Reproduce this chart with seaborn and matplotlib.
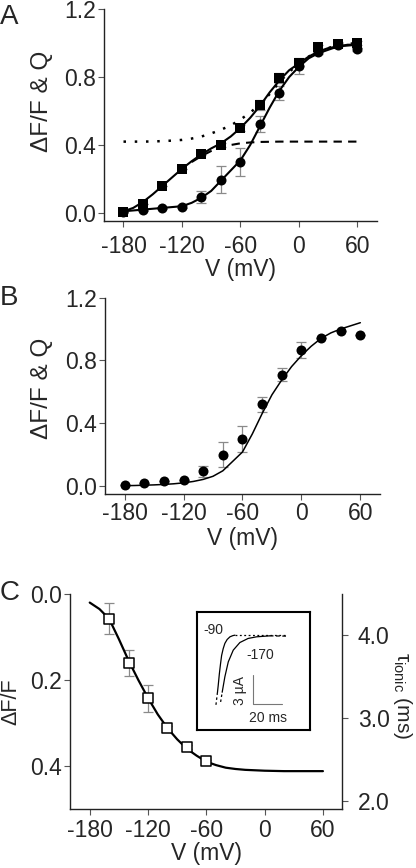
import matplotlib
matplotlib.use("Agg")
import matplotlib.pyplot as plt
import seaborn as sns

# ---- data ----
volts = [-180, -160, -140, -120, -100, -80, -60, -40, -20, 0, 20, 40, 60]

# panel A: charge (squares) and fluorescence (circles)
q_vals = [0.005, 0.055, 0.16, 0.26, 0.35, 0.40, 0.50, 0.635, 0.795, 0.885, 0.975, 0.995, 1.0]
q_err = [0, 0, 0, 0, 0.01, 0.01, 0.015, 0.03, 0.028, 0.02, 0.015, 0.01, 0.01]
f_vals = [0.005, 0.018, 0.03, 0.038, 0.093, 0.197, 0.30, 0.521, 0.708, 0.865, 0.945, 0.99, 0.962]
f_err = [0, 0.005, 0.005, 0.008, 0.035, 0.08, 0.082, 0.047, 0.042, 0.045, 0.01, 0.01, 0.01]

fit_v = [-180, -170, -160, -150, -140, -130, -120, -110, -100, -90, -80, -70, -60,
         -50, -40, -30, -20, -10, 0, 10, 20, 30, 40, 50, 60]
q_fit = [0.01, 0.03, 0.065, 0.11, 0.16, 0.21, 0.26, 0.305, 0.345, 0.38, 0.41, 0.45, 0.50,
         0.56, 0.63, 0.71, 0.78, 0.84, 0.88, 0.92, 0.95, 0.97, 0.98, 0.99, 0.99]
f_fit = [0.01, 0.015, 0.02, 0.025, 0.03, 0.035, 0.04, 0.06, 0.09, 0.13, 0.19, 0.25, 0.31,
         0.40, 0.51, 0.62, 0.72, 0.80, 0.86, 0.91, 0.94, 0.96, 0.98, 0.985, 0.99]
q2_fit = [0.42, 0.42, 0.42, 0.421, 0.423, 0.426, 0.43, 0.438, 0.45, 0.468, 0.49, 0.515, 0.55,
          0.59, 0.64, 0.70, 0.77, 0.83, 0.88, 0.92, 0.95, 0.97, 0.99, 0.995, 1.0]
q1_v = [-110, -100, -90, -80, -70, -60, -50, -40, -20, 0, 20, 40, 60]
q1_fit = [0.30, 0.335, 0.365, 0.385, 0.40, 0.41, 0.415, 0.418, 0.42, 0.42, 0.42, 0.42, 0.42]

# panel B: fluorescence with predicted curve
b_err = [0, 0, 0, 0, 0.035, 0.08, 0.083, 0.048, 0.042, 0.05, 0, 0, 0]
b_fit = [0.0, 0.001, 0.003, 0.005, 0.008, 0.012, 0.018, 0.027, 0.04, 0.06, 0.095, 0.155, 0.215,
         0.33, 0.46, 0.58, 0.675, 0.76, 0.83, 0.89, 0.94, 0.975, 1.0, 1.02, 1.04]

# panel C: dF/F at hyperpolarized potentials
c_v = [-160, -140, -120, -100, -80, -60]
c_vals = [0.058, 0.16, 0.243, 0.312, 0.356, 0.389]
c_err = [0.036, 0.03, 0.032, 0.006, 0.004, 0.003]
c_fit_v = [-180, -170, -160, -150, -140, -130, -120, -110, -100, -90, -80, -70, -60,
           -50, -40, -30, -20, -10, 0, 20, 40, 60]
c_fit = [0.02, 0.035, 0.058, 0.105, 0.155, 0.20, 0.242, 0.28, 0.312, 0.338, 0.36, 0.376, 0.39,
         0.398, 0.404, 0.407, 0.409, 0.41, 0.411, 0.412, 0.412, 0.412]

# inset: ionic current traces (ms, uA)
t90 = [14.6, 15.2, 16.0, 16.8, 17.6, 18.7, 19.9, 21.5, 23.5, 25.5, 27.0]
i90 = [-6.0, -5.2, -4.0, -3.0, -2.1, -1.4, -0.85, -0.45, -0.17, -0.05, 0.0]
t170 = [18.0, 19.9, 22.3, 25.8, 30.5, 36.3, 42.3, 51.6]
i170 = [-5.9, -4.3, -2.76, -1.55, -0.76, -0.34, -0.17, -0.07]

sns.set_style("ticks")
plt.rcParams['font.family'] = ['Liberation Sans', 'DejaVu Sans']
plt.rcParams['mathtext.fontset'] = 'custom'
plt.rcParams['mathtext.rm'] = 'Liberation Sans'
plt.rcParams['mathtext.it'] = 'Liberation Sans:italic'
plt.rcParams['axes.unicode_minus'] = False

fs = 16.5
err_kw = dict(fmt='none', ecolor='#8a8a8a', elinewidth=0.9, capsize=3.5, capthick=0.9, zorder=2)


def style_axes(ax, xpad):
    sns.despine(ax=ax)
    for s in ['left', 'bottom']:
        ax.spines[s].set_linewidth(1.0)
        ax.spines[s].set_color('#222222')
    ax.tick_params(axis='both', direction='out', length=4, width=0.8, color='#555555', labelsize=fs)
    ax.tick_params(axis='y', pad=2)
    ax.tick_params(axis='x', pad=xpad)
    ax.set_xlim(-200, 80)
    ax.set_xticks([-180, -120, -60, 0, 60])


fig = plt.figure(figsize=(4.16, 8.68), dpi=100)

# ---------- A ----------
axA = fig.add_axes([0.25, 0.7454, 0.656, 0.2442])
axA.errorbar(volts, f_vals, yerr=f_err, **err_kw)
axA.errorbar(volts, q_vals, yerr=q_err, **err_kw)
sns.lineplot(x=q1_v, y=q1_fit, ax=axA, color='black', lw=1.5, linestyle=(0, (4, 3)), estimator=None)
sns.lineplot(x=fit_v, y=q2_fit, ax=axA, color='black', lw=1.8, linestyle=(0, (1, 3.5)), estimator=None)
sns.lineplot(x=fit_v, y=q_fit, ax=axA, color='black', lw=1.5, estimator=None)
sns.lineplot(x=fit_v, y=f_fit, ax=axA, color='black', lw=1.5, estimator=None)
sns.scatterplot(x=volts, y=q_vals, ax=axA, marker='s', s=48, color='black', linewidth=0, zorder=3)
sns.scatterplot(x=volts, y=f_vals, ax=axA, marker='o', s=52, color='black', linewidth=0, zorder=3)
style_axes(axA, 6)
axA.set_ylim(-0.047, 1.2)
axA.set_yticks([0.0, 0.4, 0.8, 1.2])
axA.set_yticklabels(['0.0', '0.4', '0.8', '1.2'])
axA.set_xlabel('V (mV)', fontsize=fs, va='top')
axA.set_ylabel('ΔF/F & Q', fontsize=fs + 1)
axA.xaxis.set_label_coords(0.5, -0.175)
axA.yaxis.set_label_coords(-0.186, 0.565)

# ---------- B ----------
axB = fig.add_axes([0.2524, 0.4309, 0.661, 0.2262])
axB.errorbar(volts, f_vals, yerr=b_err, **err_kw)
sns.lineplot(x=fit_v, y=b_fit, ax=axB, color='black', lw=1.1, estimator=None)
sns.scatterplot(x=volts, y=f_vals, ax=axB, marker='o', s=52, color='black', linewidth=0, zorder=3)
style_axes(axB, 2)
axB.set_ylim(-0.053, 1.2)
axB.set_yticks([0.0, 0.4, 0.8, 1.2])
axB.set_yticklabels(['0.0', '0.4', '0.8', '1.2'])
axB.set_xlabel('V (mV)', fontsize=fs, va='top')
axB.set_ylabel('ΔF/F & Q', fontsize=fs + 1)
axB.xaxis.set_label_coords(0.5, -0.17)
axB.yaxis.set_label_coords(-0.188, 0.537)

# ---------- C ----------
axC = fig.add_axes([0.169, 0.068, 0.654, 0.2477])
axC.errorbar(c_v, c_vals, yerr=c_err, **err_kw)
sns.lineplot(x=c_fit_v, y=c_fit, ax=axC, color='black', lw=1.6, estimator=None)
sns.scatterplot(x=c_v, y=c_vals, ax=axC, marker='s', s=60, color='white', edgecolor='black',
                linewidth=1.1, zorder=3)
style_axes(axC, 3)
axC.set_ylim(0.5, 0.0)
axC.set_yticks([0.0, 0.2, 0.4])
axC.set_yticklabels(['0.0', '0.2', '0.4'])
axC.set_xlabel('V (mV)', fontsize=fs, va='top')
axC.set_ylabel('ΔF/F', fontsize=15.5)
axC.xaxis.set_label_coords(0.5, -0.152)
axC.yaxis.set_label_coords(-0.18, 0.5)

axC2 = axC.twinx()
axC2.set_ylim(1.9, 4.49)
axC2.set_yticks([2.0, 3.0, 4.0])
axC2.set_yticklabels(['2.0', '3.0', '4.0'])
for s in ['top', 'left', 'bottom']:
    axC2.spines[s].set_visible(False)
axC2.spines['right'].set_linewidth(1.0)
axC2.spines['right'].set_color('#222222')
axC2.tick_params(axis='y', direction='out', length=4, width=0.8, color='#555555', labelsize=fs, pad=7)
axC2.set_ylabel('τ$_{\\mathrm{ionic}}$ (ms)', fontsize=15, rotation=270, va='bottom')
axC2.yaxis.set_label_coords(1.178, 0.526)

# inset with current traces
axI = fig.add_axes([0.4728, 0.159, 0.2724, 0.136])
axI.set_xlim(0, 80)
axI.set_ylim(-9.8, 2.4)
axI.set_xticks([])
axI.set_yticks([])
for s in axI.spines.values():
    s.set_visible(True)
    s.set_linewidth(1.5)
    s.set_color('black')
sns.lineplot(x=t90, y=i90, ax=axI, color='black', lw=0.9, estimator=None)
sns.lineplot(x=[13.6, 14.6], y=[-7.2, -6.0], ax=axI, color='black', lw=0.9, linestyle=(0, (2, 2)), estimator=None)
sns.lineplot(x=[27.0, 63.6], y=[0.0, 0.0], ax=axI, color='black', lw=0.9, linestyle=(0, (1.5, 2)), estimator=None)
sns.lineplot(x=t170, y=i170, ax=axI, color='black', lw=0.9, estimator=None)
sns.lineplot(x=[16.9, 18.0], y=[-6.9, -5.9], ax=axI, color='black', lw=0.9, linestyle=(0, (2, 2)), estimator=None)
sns.lineplot(x=[51.6, 63.6], y=[-0.07, -0.1], ax=axI, color='black', lw=0.9, linestyle=(0, (3, 2)), estimator=None)
axI.plot([40, 40, 60], [-4.14, -7.14, -7.14], color='#777777', lw=0.8)
axI.text(11.5, 0.5, '-90', fontsize=10, ha='center', va='center')
axI.text(44.6, -2.1, '-170', fontsize=10, ha='center', va='center')
axI.text(30.5, -5.7, '3 µA', fontsize=10, ha='center', va='center', rotation=90)
axI.text(50.2, -8.6, '20 ms', fontsize=10, ha='center', va='center')

# panel letters
fig.text(0.0, 1 - 4 / 868, 'A', fontsize=20, va='top', ha='left')
fig.text(0.0, 1 - 285 / 868, 'B', fontsize=20, va='top', ha='left')
fig.text(0.0, 1 - 580 / 868, 'C', fontsize=20, va='top', ha='left')

fig.savefig('out.png', dpi=100)
